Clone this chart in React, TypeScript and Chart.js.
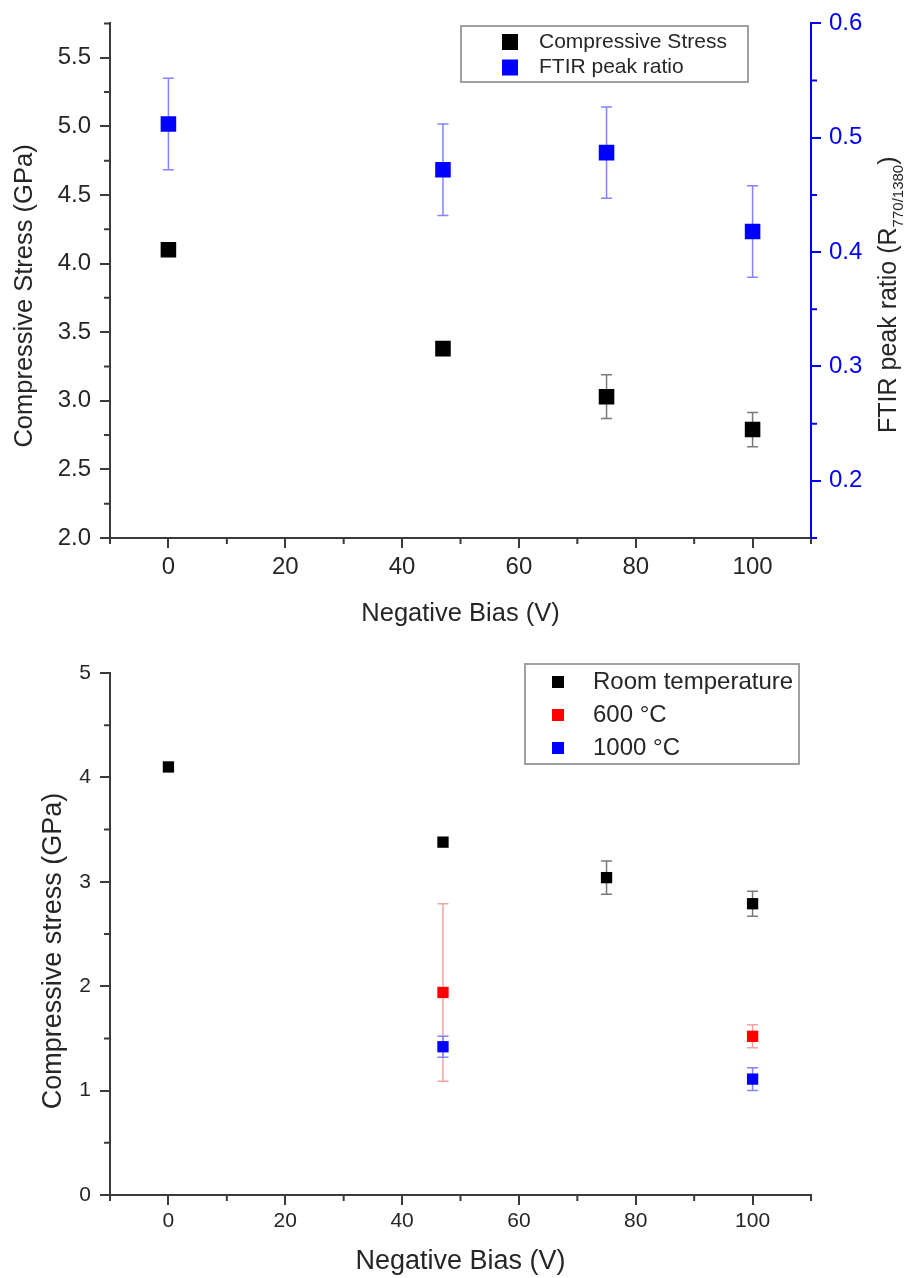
import React, { useEffect, useRef } from 'react';
import { Chart, registerables } from 'chart.js';

Chart.register(...registerables);

const FONT = "Arial, 'Liberation Sans', Helvetica, sans-serif";
const INK = '#262626';
const AXIS = '#3a3a3a';
const BLUE = '#0000ff';
const RED = '#ff0000';

// ---------- Data: top panel ----------
const biasTop = [0, 47, 75, 100];
const stressTop = [4.1, 3.38, 3.03, 2.79];
const stressTopErr = [0, 0, 0.16, 0.125];
const ftirRatio = [0.512, 0.472, 0.487, 0.418];
const ftirRatioErr = [0.04, 0.04, 0.04, 0.04];

// ---------- Data: bottom panel ----------
const biasRT = [0, 47, 75, 100];
const stressRT = [4.1, 3.38, 3.04, 2.79];
const stressRTErr = [0, 0, 0.16, 0.12];
const bias600 = [47, 100];
const stress600 = [1.94, 1.52];
const stress600Err = [0.85, 0.11];
const bias1000 = [47, 100];
const stress1000 = [1.42, 1.11];
const stress1000Err = [0.1, 0.11];

// ---------- Tick values ----------
const xTickValues = [0, 20, 40, 60, 80, 100];

// ---------- Text ----------
const xTitle = 'Negative Bias (V)';
const yTitleTop = 'Compressive Stress (GPa)';
const y1TitleMain = 'FTIR peak ratio (R';
const y1TitleSub = '770/1380';
const y1TitleEnd = ')';
const yTitleBottom = 'Compressive stress (GPa)';
const legendTop = ['Compressive Stress', 'FTIR peak ratio'];
const legendBottom = ['Room temperature', '600 °C', '1000 °C'];

const pts = (xs: number[], ys: number[]) => xs.map((x, i) => ({ x, y: ys[i] }));

// ---------- Plugins ----------
const errorBarsPlugin = {
  id: 'errorBars',
  beforeDatasetsDraw(chart: any) {
    const { ctx } = chart;
    chart.data.datasets.forEach((ds: any, i: number) => {
      const errs = ds.errors;
      if (!errs) return;
      const meta = chart.getDatasetMeta(i);
      const xs = chart.scales[meta.xAxisID];
      const ys = chart.scales[meta.yAxisID];
      ctx.save();
      ctx.strokeStyle = ds.errorColor;
      ctx.lineWidth = 1.5;
      ds.data.forEach((p: any, j: number) => {
        const e = errs[j];
        if (!e) return;
        const x = xs.getPixelForValue(p.x);
        const y0 = ys.getPixelForValue(p.y + e);
        const y1 = ys.getPixelForValue(p.y - e);
        const c = ds.errorCap / 2;
        ctx.beginPath();
        ctx.moveTo(x, y0); ctx.lineTo(x, y1);
        ctx.moveTo(x - c, y0); ctx.lineTo(x + c, y0);
        ctx.moveTo(x - c, y1); ctx.lineTo(x + c, y1);
        ctx.stroke();
      });
      ctx.restore();
    });
  },
};

function makeMinorTicks(axes: { id: string; step: number; len: number; color: string }[]) {
  return {
    id: 'minorTicks',
    afterDraw(chart: any) {
      const { ctx, chartArea } = chart;
      axes.forEach((a) => {
        const s = chart.scales[a.id];
        if (!s) return;
        const k0 = Math.ceil(s.min / a.step - 1e-6);
        const k1 = Math.floor(s.max / a.step + 1e-6);
        ctx.save();
        ctx.strokeStyle = a.color;
        ctx.lineWidth = 2;
        ctx.beginPath();
        for (let k = k0; k <= k1; k++) {
          if (Math.abs(k) % 2 === 0) continue;
          const p = s.getPixelForValue(k * a.step);
          if (s.isHorizontal()) {
            ctx.moveTo(p, chartArea.bottom); ctx.lineTo(p, chartArea.bottom + a.len);
          } else if (s.position === 'left') {
            ctx.moveTo(chartArea.left, p); ctx.lineTo(chartArea.left - a.len, p);
          } else {
            ctx.moveTo(chartArea.right, p); ctx.lineTo(chartArea.right + a.len, p);
          }
        }
        ctx.stroke();
        ctx.restore();
      });
    },
  };
}

function makeVTitles(items: { x: number; y: number; parts: { text: string; size: number; shift: number }[]; align: 'center' | 'start' }[]) {
  return {
    id: 'vTitles',
    afterDraw(chart: any) {
      const { ctx } = chart;
      items.forEach((it) => {
        ctx.save();
        ctx.translate(it.x, it.y);
        ctx.rotate(-Math.PI / 2);
        ctx.fillStyle = INK;
        ctx.textAlign = 'left';
        ctx.textBaseline = it.align === 'center' ? 'middle' : 'alphabetic';
        let total = 0;
        const widths = it.parts.map((p) => {
          ctx.font = `${p.size}px ${FONT}`;
          const w = ctx.measureText(p.text).width;
          total += w;
          return w;
        });
        let cx = it.align === 'center' ? -total / 2 : 0;
        it.parts.forEach((p, i) => {
          ctx.font = `${p.size}px ${FONT}`;
          ctx.fillText(p.text, cx, p.shift);
          cx += widths[i];
        });
        ctx.restore();
      });
    },
  };
}

function makeBoxLegend(L: any) {
  return {
    id: 'boxLegend',
    afterDraw(chart: any) {
      const { ctx } = chart;
      ctx.save();
      ctx.fillStyle = '#fff';
      ctx.fillRect(L.x, L.y, L.w, L.h);
      ctx.strokeStyle = '#a0a0a0';
      ctx.lineWidth = 2;
      ctx.strokeRect(L.x, L.y, L.w, L.h);
      ctx.font = `${L.fontSize}px ${FONT}`;
      ctx.textBaseline = 'middle';
      ctx.textAlign = 'left';
      chart.data.datasets.forEach((ds: any, i: number) => {
        const cy = L.firstRow + i * L.rowGap;
        ctx.fillStyle = ds.backgroundColor;
        ctx.fillRect(L.markerX - L.marker / 2, cy - L.marker / 2, L.marker, L.marker);
        ctx.fillStyle = INK;
        ctx.fillText(ds.label, L.textX, cy);
      });
      ctx.restore();
    },
  };
}

const axisCommon = (size: number, color: string, pad: number) => ({
  grid: { drawOnChartArea: false, drawTicks: true, tickLength: 10, color, lineWidth: 2 },
  border: { color, width: 2 },
  ticks: { font: { family: FONT, size }, color: color === BLUE ? BLUE : INK, padding: pad, autoSkip: false, maxRotation: 0, includeBounds: false },
});

const setXTicks = (s: any) => {
  s.ticks = xTickValues.map((v) => ({ value: v }));
};

function makeTopConfig(): any {
  const xa = axisCommon(24, AXIS, 5);
  const ya = axisCommon(24, AXIS, 9);
  const y1a = axisCommon(24, BLUE, 8);
  return {
    type: 'scatter',
    data: {
      datasets: [
        {
          label: legendTop[0], data: pts(biasTop, stressTop), errors: stressTopErr, errorColor: '#7a7a7a', errorCap: 11,
          backgroundColor: '#000', pointStyle: 'rect', pointRadius: 11, pointHoverRadius: 11, pointBorderWidth: 0, yAxisID: 'y',
        },
        {
          label: legendTop[1], data: pts(biasTop, ftirRatio), errors: ftirRatioErr, errorColor: '#8383ff', errorCap: 11,
          backgroundColor: BLUE, pointStyle: 'rect', pointRadius: 11, pointHoverRadius: 11, pointBorderWidth: 0, yAxisID: 'y1',
        },
      ],
    },
    options: {
      responsive: false, animation: false, devicePixelRatio: 1,
      layout: { padding: { top: 20, left: 0, right: 0, bottom: 0 } },
      plugins: { legend: { display: false }, tooltip: { enabled: false } },
      scales: {
        x: {
          type: 'linear', min: -10, max: 110, ...xa,
          ticks: { ...xa.ticks, stepSize: 20 },
          afterBuildTicks: setXTicks,
          title: { display: true, text: xTitle, color: INK, font: { family: FONT, size: 25.5 }, padding: { top: 0, bottom: 11 } },
          afterFit: (s: any) => { s.height = 102; },
        },
        y: {
          type: 'linear', position: 'left', min: 2, max: 5.75, ...ya,
          ticks: { ...ya.ticks, stepSize: 0.5, callback: (v: number) => v.toFixed(1) },
          afterFit: (s: any) => { s.width = 110; },
        },
        y1: {
          type: 'linear', position: 'right', min: 0.15, max: 0.6, ...y1a,
          ticks: { ...y1a.ticks, stepSize: 0.1, callback: (v: number) => v.toFixed(1) },
          afterFit: (s: any) => { s.width = 94; },
        },
      },
    },
    plugins: [
      errorBarsPlugin,
      makeMinorTicks([
        { id: 'x', step: 10, len: 6, color: AXIS },
        { id: 'y', step: 0.25, len: 6, color: AXIS },
        { id: 'y1', step: 0.05, len: 6, color: BLUE },
      ]),
      makeVTitles([
        { x: 25, y: 296, align: 'center', parts: [{ text: yTitleTop, size: 25.5, shift: 0 }] },
        {
          x: 896, y: 433, align: 'start',
          parts: [
            { text: y1TitleMain, size: 25, shift: 0 },
            { text: y1TitleSub, size: 15, shift: 7 },
            { text: y1TitleEnd, size: 25, shift: 0 },
          ],
        },
      ]),
      makeBoxLegend({ x: 461, y: 26, w: 287, h: 56, firstRow: 42, rowGap: 25.5, markerX: 510, marker: 16, textX: 539, fontSize: 21 }),
    ],
  };
}

function makeBottomConfig(): any {
  const xa = axisCommon(21, AXIS, 4);
  const ya = axisCommon(21, AXIS, 9);
  const mk = (label: string, xs: number[], ys: number[], errs: number[], color: string, errColor: string) => ({
    label, data: pts(xs, ys), errors: errs, errorColor: errColor, errorCap: 11,
    backgroundColor: color, pointStyle: 'rect', pointRadius: 8, pointHoverRadius: 8, pointBorderWidth: 0,
  });
  return {
    type: 'scatter',
    data: {
      datasets: [
        mk(legendBottom[0], biasRT, stressRT, stressRTErr, '#000', '#7a7a7a'),
        mk(legendBottom[1], bias600, stress600, stress600Err, RED, '#f3a3a3'),
        mk(legendBottom[2], bias1000, stress1000, stress1000Err, BLUE, '#8383ff'),
      ],
    },
    options: {
      responsive: false, animation: false, devicePixelRatio: 1,
      layout: { padding: { top: 33, left: 0, right: 94, bottom: 0 } },
      plugins: { legend: { display: false }, tooltip: { enabled: false } },
      scales: {
        x: {
          type: 'linear', min: -10, max: 110, ...xa,
          ticks: { ...xa.ticks, stepSize: 20 },
          afterBuildTicks: setXTicks,
          title: { display: true, text: xTitle, color: INK, font: { family: FONT, size: 27 }, padding: { top: 0, bottom: 0 } },
          afterFit: (s: any) => { s.height = 83; },
        },
        y: {
          type: 'linear', position: 'left', min: 0, max: 5, ...ya,
          ticks: { ...ya.ticks, stepSize: 1 },
          afterFit: (s: any) => { s.width = 110; },
        },
      },
    },
    plugins: [
      errorBarsPlugin,
      makeMinorTicks([
        { id: 'x', step: 10, len: 6, color: AXIS },
        { id: 'y', step: 0.5, len: 6, color: AXIS },
      ]),
      makeVTitles([
        { x: 54, y: 311, align: 'center', parts: [{ text: yTitleBottom, size: 27, shift: 0 }] },
      ]),
      makeBoxLegend({ x: 525, y: 24, w: 274, h: 100, firstRow: 42, rowGap: 33, markerX: 558, marker: 12, textX: 593, fontSize: 24 }),
    ],
  };
}

function ChartBox({ makeConfig, width, height, top }: { makeConfig: () => any; width: number; height: number; top: number }) {
  const ref = useRef<HTMLCanvasElement>(null);
  useEffect(() => {
    const chart = new Chart(ref.current as HTMLCanvasElement, makeConfig());
    return () => chart.destroy();
  }, []);
  return (
    <canvas
      ref={ref}
      width={width}
      height={height}
      style={{ position: 'absolute', left: 0, top, width, height, display: 'block' }}
    />
  );
}

export default function App() {
  return (
    <div style={{ position: 'absolute', left: 0, top: 0, width: 905, height: 1278, background: '#fff' }}>
      <ChartBox makeConfig={makeTopConfig} width={905} height={640} top={0} />
      <ChartBox makeConfig={makeBottomConfig} width={905} height={638} top={640} />
    </div>
  );
}
